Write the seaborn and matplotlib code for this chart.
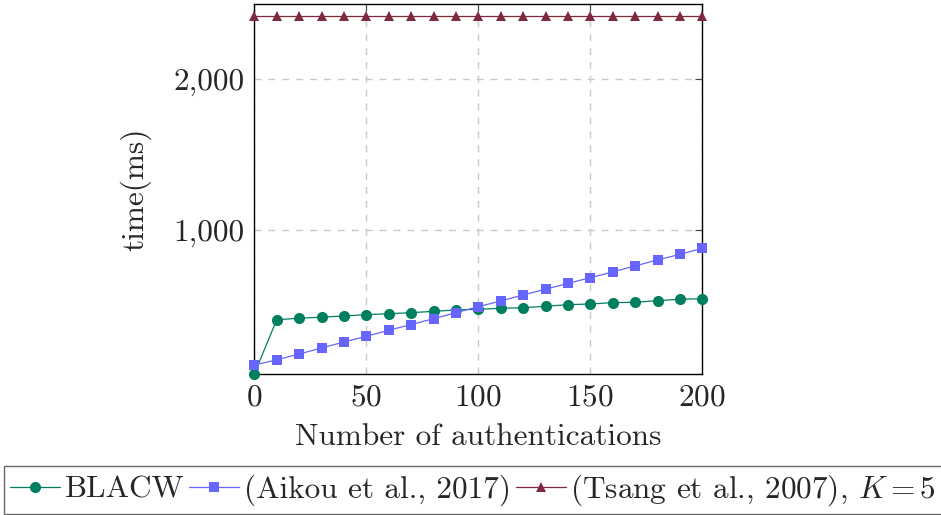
import matplotlib
matplotlib.use("Agg")
import matplotlib.pyplot as plt
import seaborn as sns
import pandas as pd
from matplotlib.ticker import FuncFormatter, FixedLocator

# ---- data ----
n_auth = [0, 10, 20, 30, 40, 50, 60, 70, 80, 90, 100, 110, 120, 130, 140, 150,
          160, 170, 180, 190, 200]
blacw = [40, 401, 411, 418, 426, 435, 441, 448, 457, 466, 471, 477, 481, 491,
         501, 506, 515, 517, 528, 537, 541]
aikou = [100, 134, 173, 213, 253, 291, 331, 369, 408, 448, 488, 526, 566, 604,
         643, 681, 719, 759, 799, 836, 876]
tsang = [2423] * 21
series_names = ["BLACW", "(Aikou et al., 2017)", "(Tsang et al., 2007), $K=5$"]
x_ticks = [0, 50, 100, 150, 200]
y_ticks = [1000, 2000]

sns.set_theme(style="white")
plt.rcParams["font.family"] = ["cmr10", "DejaVu Serif"]
plt.rcParams["mathtext.fontset"] = "cm"
plt.rcParams["axes.formatter.use_mathtext"] = True

FS = 22.5
fig = plt.figure(figsize=(9.41, 5.15), dpi=100)
W, H = 941, 515
left, right, top, bottom = 254.3, 702.3, 4.3, 374.0
ax = fig.add_axes([left / W, 1 - bottom / H, (right - left) / W, (bottom - top) / H])

df = pd.DataFrame({"x": n_auth, "blacw": blacw, "aikou": aikou, "tsang": tsang})

specs = [
    ("blacw", "#007F5F", "o", 8.0, series_names[0]),
    ("aikou", "#6666FF", "s", 7.2, series_names[1]),
    ("tsang", "#7F2A3F", "^", 6.5, series_names[2]),
]
for col, color, marker, ms, label in specs:
    sns.lineplot(data=df, x="x", y=col, ax=ax, color=color, marker=marker,
                 markersize=ms, markeredgewidth=0, linewidth=0.9, label=label,
                 clip_on=False, zorder=3)

ax.set_xlim(0, 200)
ax.set_ylim(40, 2500)
ax.xaxis.set_major_locator(FixedLocator(x_ticks))
ax.yaxis.set_major_locator(FixedLocator(y_ticks))
ax.yaxis.set_major_formatter(FuncFormatter(lambda v, p: f"{int(v):,}"))

ax.grid(True, linestyle=(0, (5, 5)), color="#c8c8c8", linewidth=1.0)
ax.set_axisbelow(True)
for s in ax.spines.values():
    s.set_color("black")
    s.set_linewidth(1.0)
    s.set_visible(True)
ax.tick_params(axis="both", which="major", direction="in", length=5, width=0.8,
               color="#444444", top=True, right=True, labelsize=FS, pad=7)

ax.set_xlabel("Number of authentications", fontsize=FS, labelpad=8)
ax.set_ylabel("time(ms)", fontsize=FS, labelpad=16)

leg = ax.legend(loc="upper left", bbox_to_anchor=(4 / W, 1 - 466 / H),
                bbox_transform=fig.transFigure, ncol=3, fontsize=FS, frameon=True,
                fancybox=False, edgecolor="#444444", handlelength=1.6,
                handletextpad=0.15, columnspacing=0.15, borderpad=0.2,
                borderaxespad=0)
leg.get_frame().set_linewidth(1.0)

fig.savefig("out.png", dpi=100)
